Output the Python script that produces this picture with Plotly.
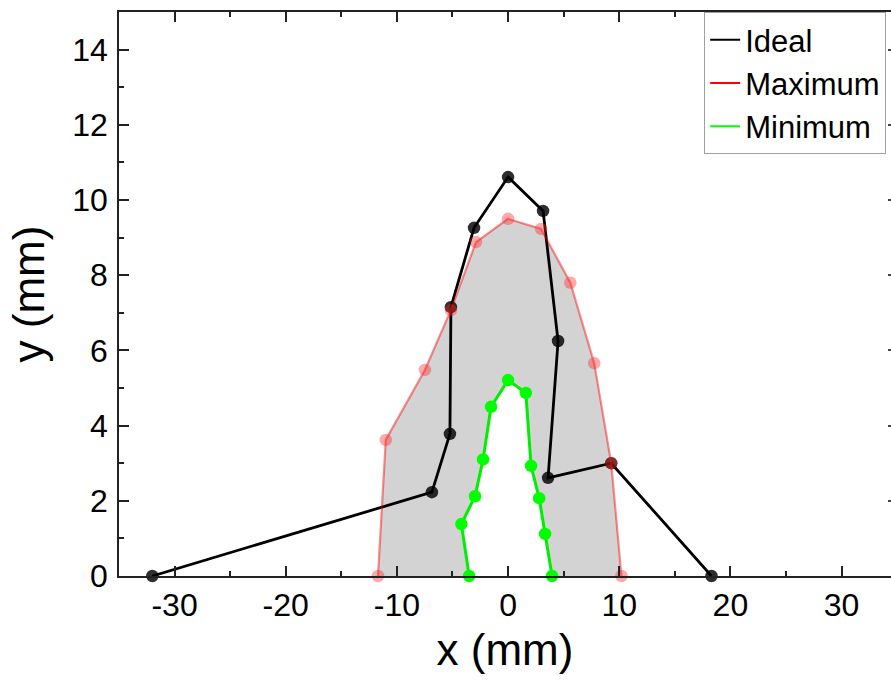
import plotly.graph_objects as go

# Data (mm)
ideal_x = [-32.0, -6.85, -5.23, -5.14, -3.06, 0.0, 3.15, 4.5, 3.6, 9.28, 18.3]
ideal_y = [0.0, 2.23, 3.78, 7.15, 9.26, 10.61, 9.71, 6.25, 2.61, 3.0, 0.0]

max_x = [-11.7, -11.0, -7.48, -5.14, -2.88, 0.0, 2.97, 5.6, 7.75, 9.28, 10.2]
max_y = [0.0, 3.62, 5.48, 7.07, 8.88, 9.5, 9.23, 7.8, 5.66, 3.0, 0.0]

min_x = [-3.5, -4.2, -2.97, -2.25, -1.53, 0.0, 1.6, 2.07, 2.8, 3.33, 3.96]
min_y = [0.0, 1.38, 2.12, 3.1, 4.5, 5.21, 4.87, 2.93, 2.07, 1.12, 0.0]

x_tickvals = [-30, -20, -10, 0, 10, 20, 30]
x_ticktext = ["-30", "-20", "-10", "0", "10", "20", "30"]

series_names = ["Ideal", "Maximum", "Minimum"]
series_colors = ["#000000", "#ff0000", "#00ff00"]

FONT = "Liberation Sans, Arial, sans-serif"

fig = go.Figure()

# gray band between maximum and minimum
fig.add_trace(go.Scatter(x=max_x, y=max_y, mode="none", fill="toself",
                         fillcolor="#d3d3d3", showlegend=False, hoverinfo="skip"))
fig.add_trace(go.Scatter(x=min_x, y=min_y, mode="none", fill="toself",
                         fillcolor="#ffffff", showlegend=False, hoverinfo="skip"))

# Ideal
fig.add_trace(go.Scatter(x=ideal_x, y=ideal_y, mode="lines+markers",
                         line=dict(color="#000000", width=2.8),
                         marker=dict(color="rgba(0,0,0,0.82)", size=12.5),
                         showlegend=False, cliponaxis=False))
# Maximum
fig.add_trace(go.Scatter(x=max_x, y=max_y, mode="lines+markers",
                         line=dict(color="rgba(255,0,0,0.45)", width=2.2),
                         marker=dict(color="rgba(255,40,40,0.4)", size=12.5),
                         showlegend=False, cliponaxis=False))
# Minimum
fig.add_trace(go.Scatter(x=min_x, y=min_y, mode="lines+markers",
                         line=dict(color="#00ee00", width=3),
                         marker=dict(color="#00ff00", size=12.5),
                         showlegend=False, cliponaxis=False))

# legend entries (line only)
for name, col in zip(series_names, series_colors):
    fig.add_trace(go.Scatter(x=[None], y=[None], mode="lines", name=name,
                             line=dict(color=col, width=2)))

# right-side tick marks (axis line lies just outside the picture)
fig.add_trace(go.Scatter(x=[None], y=[None], yaxis="y2", showlegend=False))

fig.update_layout(
    width=891, height=685,
    margin=dict(l=119, r=0, t=12, b=109),
    paper_bgcolor="white", plot_bgcolor="white",
    font=dict(family=FONT, size=31, color="#000000"),
    showlegend=True,
    legend=dict(x=0.758, y=1, xanchor="left", yanchor="top",
                bgcolor="white", bordercolor="#a0a0a0", borderwidth=1,
                font=dict(family=FONT, size=31), tracegroupgap=0,
                itemwidth=30),
    xaxis=dict(range=[-35, 34.45], tickvals=x_tickvals, ticktext=x_ticktext,
               showgrid=False, zeroline=False,
               showline=True, linecolor="#222222", linewidth=1.5,
               mirror="ticks", ticks="inside", ticklen=10, tickwidth=1.5,
               tickcolor="#222222",
               minor=dict(dtick=5, tick0=0, ticks="inside", ticklen=5,
                          tickwidth=1.5, tickcolor="#222222"),
               tickfont=dict(family=FONT, size=32),
               title=dict(text="x (mm)", font=dict(family=FONT, size=44),
                          standoff=12)),
    yaxis=dict(range=[0, 15], dtick=2, tick0=0,
               showgrid=False, zeroline=False,
               showline=True, linecolor="#222222", linewidth=1.5,
               mirror=False, ticks="inside", ticklen=10, tickwidth=1.5,
               tickcolor="#222222",
               minor=dict(dtick=1, ticks="inside", ticklen=5, tickwidth=1.5,
                          tickcolor="#222222"),
               tickfont=dict(family=FONT, size=32),
               ticklabelstandoff=3,
               title=dict(text="y (mm)", font=dict(family=FONT, size=44),
                          standoff=14)),
    yaxis2=dict(overlaying="y", side="right", range=[0, 15], dtick=2,
                showgrid=False, zeroline=False, showline=False,
                showticklabels=False, ticks="inside", ticklen=3,
                tickwidth=1.5, tickcolor="#444444"),
)

fig.write_html("out.html")
